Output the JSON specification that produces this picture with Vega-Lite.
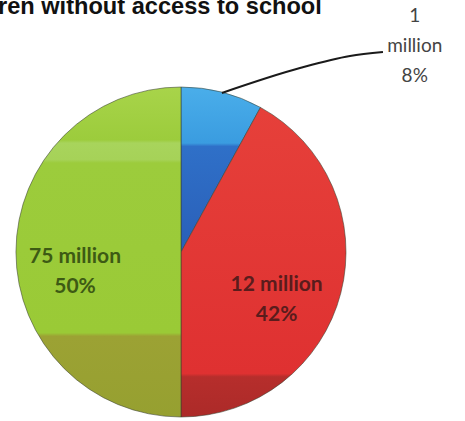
{
  "$schema": "https://vega.github.io/schema/vega-lite/v6.json",
  "width": 362,
  "height": 330,
  "autosize": {"type": "none"},
  "padding": {"left": 0, "top": 87, "right": 103, "bottom": 4},
  "background": "white",
  "config": {"view": {"stroke": null}},
  "title": {
    "text": "ren without access to school",
    "anchor": "start",
    "frame": "group",
    "font": "Liberation Sans",
    "fontSize": 23.6,
    "fontWeight": "bold",
    "color": "#111111",
    "baseline": "alphabetic",
    "offset": -30,
    "dx": -2
  },
  "datasets": {
    "slices": [
      {"k": "blue", "rank": 1, "share": 8, "label": "1\nmillion\n8%"},
      {"k": "red", "rank": 2, "share": 42, "label": "12 million\n42%"},
      {"k": "green", "rank": 3, "share": 50, "label": "75 million\n50%"}
    ],
    "leader": [
      {"px": 0.248, "py": 0.964},
      {"px": 0.721, "py": 1.115},
      {"px": 1.024, "py": 1.188},
      {"px": 1.224, "py": 1.212}
    ]
  },
  "layer": [
    {
      "data": {"name": "slices"},
      "mark": {"type": "arc", "stroke": "#3a4030", "strokeWidth": 0.8, "strokeOpacity": 0.7},
      "encoding": {
        "theta": {"field": "share", "type": "quantitative", "stack": true},
        "order": {"field": "rank", "type": "ordinal"},
        "fill": {
          "condition": [
            {"test": "datum.k === 'blue'", "value": {"gradient": "linear", "x1": 0, "y1": 0, "x2": 0, "y2": 1, "stops": [
              {"offset": 0, "color": "#4aaeea"},
              {"offset": 0.34, "color": "#3a9ce0"},
              {"offset": 0.36, "color": "#2f70c8"},
              {"offset": 1, "color": "#2a5fb8"}
            ]}},
            {"test": "datum.k === 'red'", "value": {"gradient": "linear", "x1": 0, "y1": 0, "x2": 0, "y2": 1, "stops": [
              {"offset": 0, "color": "#e6403a"},
              {"offset": 0.86, "color": "#df3131"},
              {"offset": 0.87, "color": "#b62e2c"},
              {"offset": 1, "color": "#ac2a28"}
            ]}}
          ],
          "value": {"gradient": "linear", "x1": 0, "y1": 0, "x2": 0, "y2": 1, "stops": [
            {"offset": 0, "color": "#a8d44a"},
            {"offset": 0.16, "color": "#9ccc3c"},
            {"offset": 0.17, "color": "#a8d45c"},
            {"offset": 0.22, "color": "#a6d258"},
            {"offset": 0.23, "color": "#9ccc3c"},
            {"offset": 0.745, "color": "#9aca36"},
            {"offset": 0.755, "color": "#9ca234"},
            {"offset": 1, "color": "#96a030"}
          ]}
        }
      }
    },
    {
      "data": {"name": "leader"},
      "mark": {"type": "line", "color": "#1a1a1a", "strokeWidth": 2, "interpolate": "monotone"},
      "encoding": {
        "x": {"field": "px", "type": "quantitative", "scale": {"domain": [-1.097, 1.097], "nice": false, "zero": false}, "axis": null},
        "y": {"field": "py", "type": "quantitative", "scale": {"domain": [-1, 1], "nice": false, "zero": false}, "axis": null}
      }
    },
    {
      "data": {"name": "slices"},
      "mark": {"type": "text", "radius": 106, "dy": 5, "lineBreak": "\n", "lineHeight": 30, "font": "Lato", "fontSize": 21, "fontWeight": "bold", "fill": "#3d5a14", "align": "center", "baseline": "middle"},
      "encoding": {
        "theta": {"field": "share", "type": "quantitative", "stack": true},
        "order": {"field": "rank", "type": "ordinal"},
        "text": {"condition": {"test": "datum.k === 'green'", "field": "label"}, "value": ""}
      }
    },
    {
      "data": {"name": "slices"},
      "mark": {"type": "text", "radius": 107, "dx": -8, "dy": 6, "lineBreak": "\n", "lineHeight": 30, "font": "Lato", "fontSize": 21, "fontWeight": "bold", "fill": "#5a1c1c", "align": "center", "baseline": "middle"},
      "encoding": {
        "theta": {"field": "share", "type": "quantitative", "stack": true},
        "order": {"field": "rank", "type": "ordinal"},
        "text": {"condition": {"test": "datum.k === 'red'", "field": "label"}, "value": ""}
      }
    },
    {
      "data": {"name": "slices"},
      "mark": {"type": "text", "radius": 200, "dx": 184, "dy": -42, "lineBreak": "\n", "lineHeight": 30, "font": "Lato", "fontSize": 19, "fill": "#444444", "align": "center", "baseline": "middle"},
      "encoding": {
        "theta": {"field": "share", "type": "quantitative", "stack": true},
        "order": {"field": "rank", "type": "ordinal"},
        "text": {"condition": {"test": "datum.k === 'blue'", "field": "label"}, "value": ""}
      }
    }
  ]
}
